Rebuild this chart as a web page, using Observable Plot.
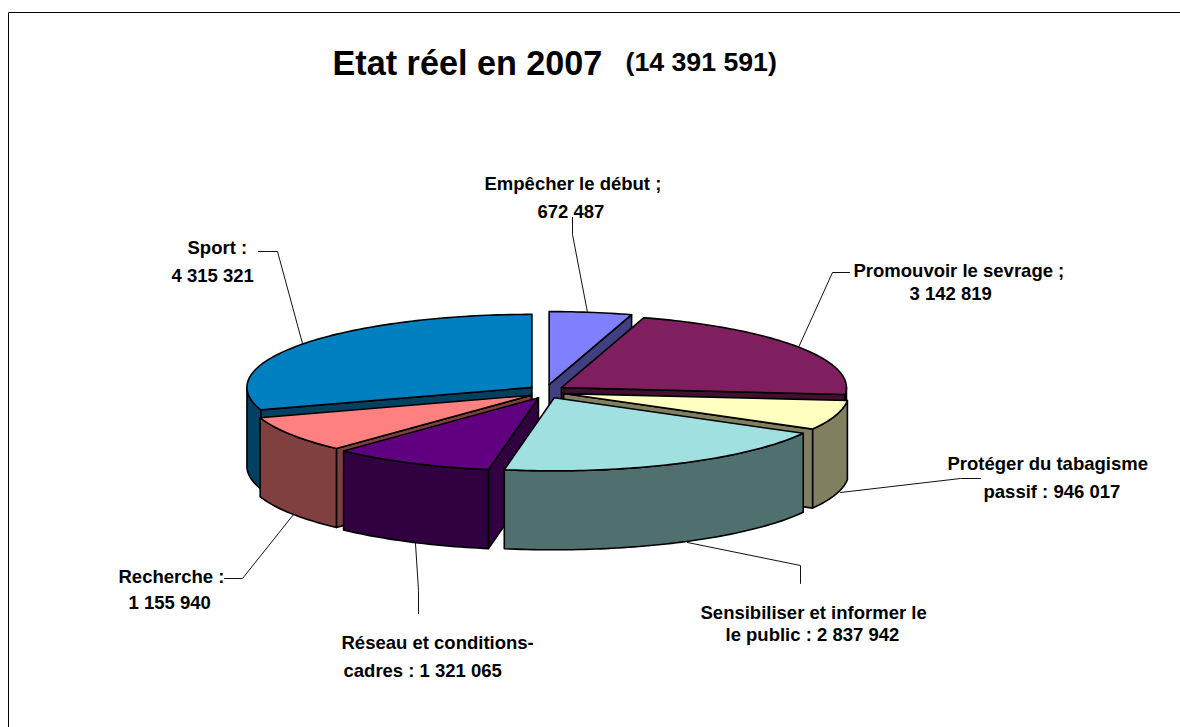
<!DOCTYPE html>
<html><head><meta charset="utf-8">
<style>html,body{margin:0;padding:0;background:#fff}svg{display:block}</style>
<script src="https://cdn.jsdelivr.net/npm/d3@7"></script>
<script src="https://cdn.jsdelivr.net/npm/@observablehq/plot@0.6"></script>
</head><body><div id="chart"></div>
<script>
const categories = ["Empêcher le début","Promouvoir le sevrage","Protéger du tabagisme passif","Sensibiliser et informer le public","Réseau et conditions-cadres","Recherche","Sport"];
const values = [672487,3142819,946017,2837942,1321065,1155940,4315321];
const topColors = ["#8080FF","#7F1F5F","#FFFFC0","#A0E0E0","#600080","#FF8080","#0080C0"];
const sideColors = ["#404080","#401030","#808060","#507070","#300040","#804040","#004060"];
const paintOrder = [0,6,1,2,5,4,3];
const titleText = "Etat réel en 2007";
const totalText = "(14 391 591)";
const labelLines = [
  ["Empêcher le début ;",484,189],["672 487",537,217],
  ["Promouvoir le sevrage ;",853,276],["3 142 819",909,299],
  ["Protéger du tabagisme",947,469],["passif : 946 017",983,497],
  ["Sensibiliser et informer le",700,618],["le public : 2 837 942",725,640],
  ["Réseau et conditions-",341,648],["cadres : 1 321 065",343,676],
  ["Recherche :",118,582],["1 155 940",128,608],
  ["Sport :",187,253],["4 315 321",171,281]
].map(([text,x,y])=>({text,x,y}));
const leaders = [
  [[587,312],[572,234],[572,217]],
  [[798,347],[832,272],[849,272]],
  [[840,492],[960,478],[980,478]],
  [[687,542],[800,565],[800,583]],
  [[415,543],[418,590],[418,613]],
  [[293,514],[242,578],[224,578]],
  [[302,343],[277,251],[258,251]]
];

// 3-D pie projection
const C = {x:546,y:391}, rx = 285, ry = 73, depth = 79, ex = 18, ey = 7;
const pie = d3.pie().sort(null)(values);
const faces = [];
const pt = (c,a,dz=0)=>({x:c.x+rx*Math.sin(a), y:c.y-ry*Math.cos(a)+dz});
const arc = (c,a0,a1,dz=0)=>{const n=Math.max(2,Math.ceil((a1-a0)/0.02));return d3.range(n+1).map(i=>pt(c,a0+(a1-a0)*i/n,dz));};
for (const i of paintOrder){
  const {startAngle:a0,endAngle:a1} = pie[i];
  const m=(a0+a1)/2;
  const c={x:C.x+ex*Math.sin(m), y:C.y-ey*Math.cos(m)};
  const down=p=>({x:p.x,y:p.y+depth});
  const radial=a=>{const e=pt(c,a);return [c,e,down(e),down(c),c];};
  if (Math.sin(a0)<-1e-6) faces.push({pts:radial(a0),fill:sideColors[i]});
  if (Math.sin(a1)>1e-6) faces.push({pts:radial(a1),fill:sideColors[i]});
  const b0=Math.max(a0,Math.PI/2), b1=Math.min(a1,1.5*Math.PI);
  if (b1>b0){const t=arc(c,b0,b1);faces.push({pts:[...t,...t.map(down).reverse(),t[0]],fill:sideColors[i]});}
  faces.push({pts:[c,...arc(c,a0,a1),c],fill:topColors[i]});
}

const W=1180,H=727;
const plot = Plot.plot({
  width:W,height:H,margin:0,
  x:{domain:[0,W],range:[0,W],axis:null},
  y:{domain:[0,H],range:[0,H],axis:null},
  style:{background:"#fff",fontFamily:"'Liberation Sans',Arial,sans-serif"},
  marks:[
    Plot.line([{x:8,y:H},{x:8,y:12},{x:W,y:12}],{x:"x",y:"y",stroke:"#000",strokeWidth:1}),
    ...leaders.map(l=>Plot.line(l.map(([x,y])=>({x,y})),{x:"x",y:"y",stroke:"#111",strokeWidth:1})),
    ...faces.map(f=>Plot.line(f.pts,{x:"x",y:"y",fill:f.fill,stroke:"#000",strokeWidth:1.6,strokeLinejoin:"round"})),
    Plot.text(labelLines,{x:"x",y:"y",text:"text",textAnchor:"start",lineAnchor:"bottom",fontSize:18.5,fontWeight:"bold",fill:"#000"}),
    Plot.text([{x:332,y:74,t:titleText}],{x:"x",y:"y",text:"t",textAnchor:"start",lineAnchor:"bottom",fontSize:34.2,fontWeight:"bold",fill:"#000"}),
    Plot.text([{x:625,y:70,t:totalText}],{x:"x",y:"y",text:"t",textAnchor:"start",lineAnchor:"bottom",fontSize:26.7,fontWeight:"bold",fill:"#000"})
  ]
});
document.getElementById("chart").appendChild(plot);
</script></body></html>
